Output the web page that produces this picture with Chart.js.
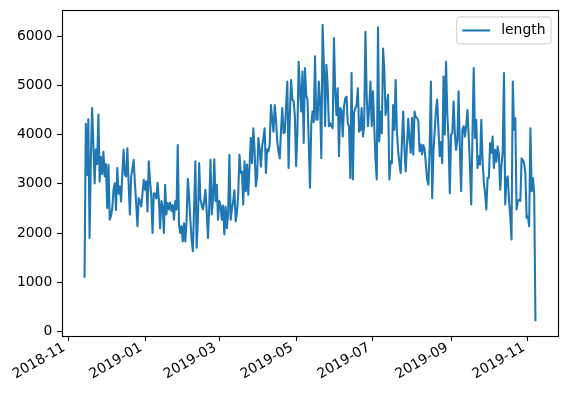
<!DOCTYPE html>
<html>
<head>
<meta charset="utf-8">
<script src="https://cdn.jsdelivr.net/npm/chart.js@4.4.0/dist/chart.umd.min.js"></script>
<style>
html,body{margin:0;padding:0;background:#ffffff;}
#wrap{width:567px;height:397px;position:relative;}
</style>
</head>
<body>
<div id="wrap"><canvas id="c" width="567" height="397"></canvas></div>
<script>
// ---- data ----
const seriesLabel = 'length';
const startDate = [2018, 11, 14];           // first observation (daily series)
const lengthValues = [
  // Nov 14 2018 ->
  1090, 4220, 3180, 4310, 1900, 3500, 4540, 3800, 3010, 3700, 3400, 4410, 3050, 3550, 3200, 3650,
  3150, 3400, 2510, 3380, 2270, 2350, 2500, 2880, 3010, 2470, 3320, 2800, 2950, 2640, 3200,
  3690, 3190, 3150, 3720, 3000, 2380, 3150, 3300, 3490, 3020, 2600, 2140, 2710, 2650, 2540, 2800,
  3080, 2880, 3050, 2440, 3460, 3050, 2750, 2000, 2810, 2800, 2700, 3020, 2680, 2100, 2650, 2540,
  2000, 2980, 2380, 2610, 2480,
  2620, 2450, 2570, 2270, 2650, 2480, 3790, 2170, 2000, 2140, 1830, 2200, 1830, 2240, 3100, 2750,
  2270, 1870, 1630, 2540, 3460, 1700, 2270, 3420, 2680, 2580, 2480, 2650, 2880, 2440, 1900, 2540,
  3490, 2380, 2700, 3500,
  2650, 2980, 2270, 2650, 2560, 2270, 2560, 1970, 2540, 2100, 2400, 3590, 2270, 2480, 2650, 2870,
  2240, 2400, 2780, 3590, 3220, 3250, 2580, 3460, 2850, 3390, 2780, 3350, 3930, 3420, 4130, 3690,
  2950, 3150, 3930,
  3700, 3350, 3760, 3930, 4130, 3220, 3700, 3660, 3800, 4600, 4300, 4060, 4600, 4300, 3860, 3650,
  3520, 4100, 4540, 4030, 4050, 4570, 5080, 3320, 4400, 5110, 4710, 4680, 4370, 3360, 4050, 5480,
  4910, 4470, 5280, 3830, 5350, 4800,
  4710, 3830, 2920, 4200, 4470, 4250, 5590, 4300, 4300, 5080, 4650, 3520, 6230, 5420, 4170, 5420,
  5010, 4170, 4230, 4170, 4130, 5960, 4900, 4400, 4940, 3560, 4540, 4500, 3960, 4570, 4740, 4770,
  4230, 4160, 3120, 5250,
  3090, 4450, 4540, 4600, 4940, 4060, 4100, 4540, 3960, 4170, 6090, 4810, 4170, 4540, 5080, 4170,
  4880, 4170, 3490, 3090, 6180, 3860, 4470, 4030, 5750, 5320, 4400, 4600, 4810, 3090, 3460, 3420,
  4600, 4100, 5110, 4060, 3660,
  3420, 3220, 3850, 4470, 3700, 3250, 3800, 4320, 3900, 3630, 4340, 3590, 4470, 4350, 4340, 4270,
  3660, 3800, 3600, 3790, 3700, 3400, 3090, 2980, 3700, 5080, 2710, 3650, 4060, 4500, 4710, 4100,
  3560, 3850, 3420, 5180, 4000,
  5480, 4440, 3900, 2810, 4000, 4030, 4670, 4030, 3690, 3900, 4880, 3690, 2850, 4100, 4170, 3960,
  4170, 4500, 3960, 3360, 2580, 4000, 5350, 3930, 4300, 3320, 3560, 3390, 4300, 3490, 3020, 2810,
  2480, 3120, 3120, 3830,
  3630, 3960, 3320, 3690, 3450, 3760, 3590, 2880, 3355, 3650, 5250, 2580, 3100, 3150, 2670, 2340,
  1870, 5080, 4100, 4330, 2480, 2650, 2680, 2650, 3520, 3480, 3420, 3220, 2310, 2340, 2140, 4130,
  2850, 3120, 2810, 210
];
const xTickLabels = ['2018-11', '2019-01', '2019-03', '2019-05', '2019-07', '2019-09', '2019-11'];
const yTickValues = [0, 1000, 2000, 3000, 4000, 5000, 6000];

// ---- derived ----
const DAY = 86400000;
const t0 = Date.UTC(startDate[0], startDate[1] - 1, startDate[2]);
const points = lengthValues.map((v, i) => ({x: i, y: v}));
const xTickDays = xTickLabels.map(s => {
  const [y, m] = s.split('-').map(Number);
  return (Date.UTC(y, m - 1, 1) - t0) / DAY;
});
const n = lengthValues.length;
const xPad = 0.05 * (n - 1);
const yMinV = Math.min(...lengthValues), yMaxV = Math.max(...lengthValues);
const yPad = 0.05 * (yMaxV - yMinV);

const FS = 13.9;
const BLUE = '#1f77b4';
Chart.defaults.font.family = '"DejaVu Sans", sans-serif';
Chart.defaults.font.size = FS;
Chart.defaults.color = '#000000';

const framePlugin = {
  id: 'mplFrame',
  afterDraw(chart) {
    const {ctx, chartArea: a} = chart;
    ctx.save();
    ctx.strokeStyle = '#000000';
    ctx.lineWidth = 1.11;
    ctx.strokeRect(Math.round(a.left) + 0.5, Math.round(a.top) + 0.5,
                   Math.round(a.right - a.left), Math.round(a.bottom - a.top));
    // legend (matplotlib style, upper right)
    const label = chart.data.datasets[0].label;
    ctx.font = FS + 'px "DejaVu Sans"';
    const tw = ctx.measureText(label).width;
    const pad = 0.4 * FS, hl = 2 * FS, htp = 0.8 * FS;
    const w = pad + hl + htp + tw + pad;
    const h = 27;
    const right = a.right - 0.5 * FS, top = a.top + 0.5 * FS;
    const left = right - w;
    const r = 2.8;
    ctx.beginPath();
    ctx.moveTo(left + r, top);
    ctx.lineTo(right - r, top);
    ctx.arcTo(right, top, right, top + r, r);
    ctx.lineTo(right, top + h - r);
    ctx.arcTo(right, top + h, right - r, top + h, r);
    ctx.lineTo(left + r, top + h);
    ctx.arcTo(left, top + h, left, top + h - r, r);
    ctx.lineTo(left, top + r);
    ctx.arcTo(left, top, left + r, top, r);
    ctx.closePath();
    ctx.fillStyle = 'rgba(255,255,255,0.8)';
    ctx.fill();
    ctx.strokeStyle = '#cccccc';
    ctx.lineWidth = 1;
    ctx.stroke();
    const cy = top + h / 2;
    ctx.beginPath();
    ctx.moveTo(left + pad, cy);
    ctx.lineTo(left + pad + hl, cy);
    ctx.strokeStyle = BLUE;
    ctx.lineWidth = 2.08;
    ctx.stroke();
    ctx.fillStyle = '#000000';
    ctx.textBaseline = 'middle';
    ctx.textAlign = 'left';
    ctx.fillText(label, left + pad + hl + htp, cy);
    ctx.restore();
  }
};

new Chart(document.getElementById('c'), {
  type: 'line',
  data: {
    datasets: [{
      label: seriesLabel,
      data: points,
      borderColor: BLUE,
      backgroundColor: BLUE,
      borderWidth: 2.08,
      pointRadius: 0,
      tension: 0,
      fill: false,
      borderJoinStyle: 'round'
    }]
  },
  options: {
    responsive: false,
    animation: false,
    devicePixelRatio: 1,
    layout: {padding: {top: 10, right: 9, left: 0, bottom: 0}},
    plugins: {legend: {display: false}, tooltip: {enabled: false}},
    scales: {
      x: {
        type: 'linear',
        min: -xPad,
        max: (n - 1) + xPad,
        afterBuildTicks: s => { s.ticks = xTickDays.map(v => ({value: v})); },
        afterFit: s => { s.height = 61; s.paddingLeft = 0; s.paddingRight = 0; },
        ticks: {
          autoSkip: false,
          minRotation: 30,
          maxRotation: 30,
          padding: -1.5,
          labelOffset: -4,
          color: '#000000',
          callback: (v, i) => xTickLabels[i]
        },
        grid: {display: true, drawOnChartArea: false, drawTicks: true, tickLength: 4.86, tickColor: '#000000', tickWidth: 1.11},
        border: {display: false}
      },
      y: {
        type: 'linear',
        min: yMinV - yPad,
        max: yMaxV + yPad,
        afterBuildTicks: s => { s.ticks = yTickValues.map(v => ({value: v})); },
        afterFit: s => { s.width = 62; s.paddingTop = 0; s.paddingBottom = 0; },
        ticks: {padding: 4.9, color: '#000000', callback: v => String(v)},
        grid: {display: true, drawOnChartArea: false, drawTicks: true, tickLength: 4.86, tickColor: '#000000', tickWidth: 1.11},
        border: {display: false}
      }
    }
  },
  plugins: [framePlugin]
});
</script>
</body>
</html>
